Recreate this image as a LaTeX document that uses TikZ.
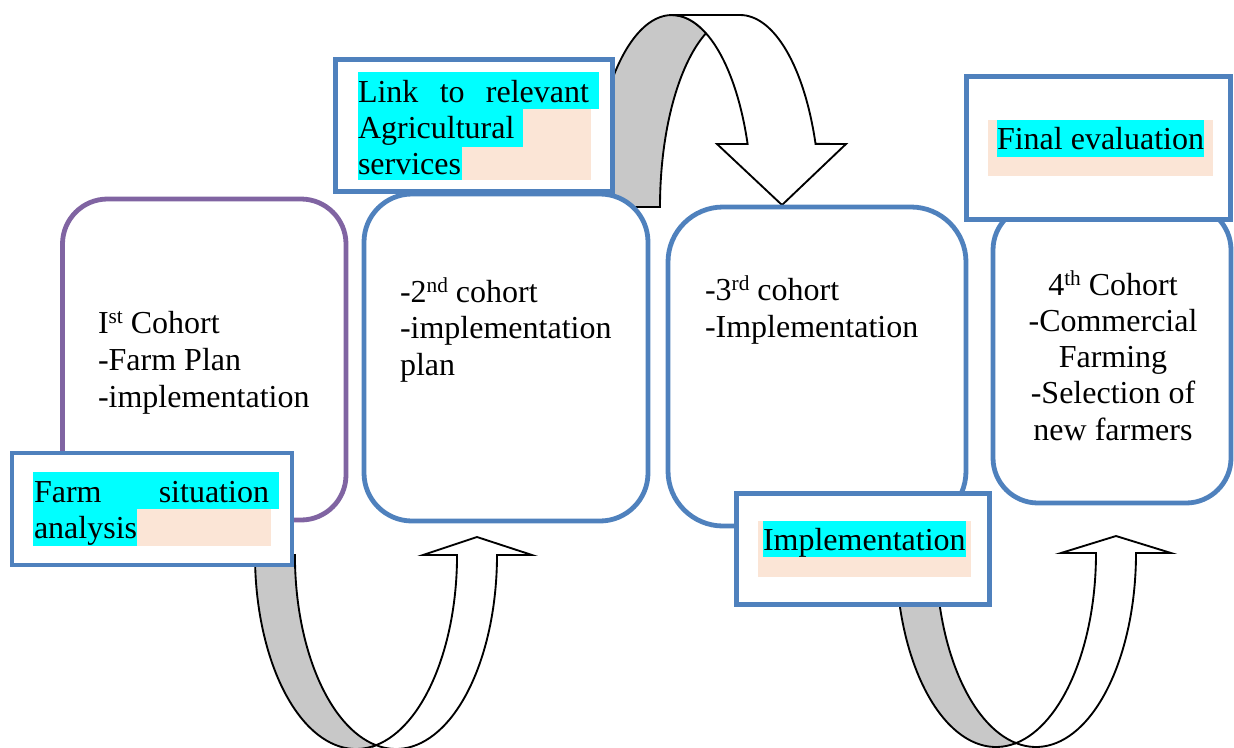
\documentclass[tikz,border=0pt]{standalone}
\usepackage{fontspec}
\setmainfont{Liberation Serif}
\definecolor{boxblue}{RGB}{79,129,189}
\definecolor{boxpurple}{RGB}{128,100,162}
\definecolor{bandgray}{RGB}{200,200,200}
\definecolor{hlbeige}{RGB}{251,229,214}
\definecolor{hlcyan}{RGB}{0,255,255}
\newcommand{\supx}[1]{\raisebox{0.3em}{\fontsize{16}{16}\selectfont #1}}
\begin{document}
\begin{tikzpicture}[x=0.75pt,y=-0.75pt,
  cohortbox/.style={draw=boxblue, line width=3.6pt, fill=white},
  tagbox/.style={draw=boxblue, line width=3.6pt, fill=white},
  backband/.style={draw=black, line width=1.4pt, fill=bandgray, line join=miter},
  frontband/.style={draw=black, line width=1.4pt, fill=white, line join=miter},
  txt/.style={inner sep=0pt, outer sep=0pt, font=\fontsize{24}{27.4}\selectfont, anchor=base west},
  ctxt/.style={txt, anchor=base},
]
\useasboundingbox (0,0) rectangle (1234,747);
\begin{scope}
\clip (0,0) rectangle (1234,747);
% ---- lower-left curved up arrow
\draw[backband] (255,555) arc[start angle=180, end angle=78.6, x radius=101, y radius=194]
  arc[start angle=101.4, end angle=180, x radius=101, y radius=194] -- cycle;
\draw[frontband] (376,745.2) arc[start angle=78.6, end angle=0, x radius=101, y radius=194]
  -- (423,555) -- (477,537) -- (532,555) -- (497,555)
  arc[start angle=0, end angle=101.4, x radius=101, y radius=194] -- cycle;
% ---- lower-right curved up arrow
\draw[backband] (896,553) arc[start angle=180, end angle=78.46, x radius=100, y radius=194]
  arc[start angle=101.54, end angle=180, x radius=100, y radius=194] -- cycle;
\draw[frontband] (1016,743.1) arc[start angle=78.46, end angle=0, x radius=100, y radius=194]
  -- (1061,553) -- (1116,536) -- (1171,553) -- (1136,553)
  arc[start angle=0, end angle=101.54, x radius=100, y radius=194] -- cycle;
% ---- top curved down arrow
\draw[backband] (592,207) arc[start angle=180, end angle=295.15, x radius=80, y radius=192]
  arc[start angle=244.85, end angle=180, x radius=80, y radius=192] -- cycle;
\draw[frontband] (672,15) -- (740,15)
  arc[start angle=270, end angle=340.8, x radius=80, y radius=192]
  -- (846,144) -- (782,205) -- (717,144) -- (747.6,144)
  arc[start angle=340.8, end angle=270, x radius=80, y radius=192] -- cycle;
\end{scope}

% ---- cohort boxes
\draw[cohortbox, draw=boxpurple, rounded corners=33.75pt] (62.5,199) rectangle (346,520);
\draw[cohortbox, rounded corners=36pt] (364,194) rectangle (648,521);
\draw[cohortbox, rounded corners=41.25pt] (668,207) rectangle (966,526);
\draw[cohortbox, rounded corners=33.75pt] (993,205) rectangle (1231,503);

\node[txt] (c1a) at (98,333) {I\supx{st} Cohort};
\node[txt] (c1b) at (98,370) {-Farm Plan};
\node[txt] (c1c) at (98,407) {-implementation};

\node[txt] (c2a) at (400,302) {-2\supx{nd} cohort};
\node[txt] (c2b) at (400,338) {-implementation};
\node[txt] (c2c) at (400,375) {plan};

\node[txt] (c3a) at (705,300) {-3\supx{rd} cohort};
\node[txt] (c3b) at (705,337) {-Implementation};

\node[ctxt] (c4a) at (1113,295) {4\supx{th} Cohort};
\node[ctxt] (c4b) at (1113,331) {-Commercial};
\node[ctxt] (c4c) at (1113,367) {Farming};
\node[ctxt] (c4d) at (1113,403) {-Selection of};
\node[ctxt] (c4e) at (1113,440) {new farmers};

% ---- tag boxes
% Farm situation analysis
\draw[tagbox] (12,453) rectangle (292,565);
\fill[hlbeige] (33,472) rectangle (271,546);
\fill[hlcyan] (33,472) rectangle (279,509);
\fill[hlcyan] (33,509) rectangle (137,546);
\node[txt] (fa1) at (34,502) {\makebox[176.25pt][s]{Farm situation}};
\node[txt] (fa2) at (34,538) {analysis};

% Link to relevant Agricultural services
\draw[tagbox] (335.5,59.5) rectangle (612.5,191.5);
\fill[hlbeige] (358,72) rectangle (591,180);
\fill[hlcyan] (358,72) rectangle (599,109);
\fill[hlcyan] (358,109) rectangle (523,147);
\fill[hlcyan] (358,147) rectangle (462,180);
\node[txt] (la1) at (358,102) {\makebox[173.25pt][s]{Link to relevant}};
\node[txt] (la2) at (358,138) {Agricultural};
\node[txt] (la3) at (358,174) {services};

% Final evaluation
\draw[tagbox] (966.5,76.5) rectangle (1230.5,219.5);
\fill[hlbeige] (988,120) rectangle (1213,176);
\fill[hlcyan] (997,120) rectangle (1204,157);
\node[txt] (fe) at (997,149) {Final evaluation};

% Implementation
\draw[tagbox] (736.5,493.5) rectangle (989.5,604.5);
\fill[hlbeige] (758,521) rectangle (971,577);
\fill[hlcyan] (763,521) rectangle (966,557);
\node[txt] (im) at (763,550) {Implementation};
\end{tikzpicture}
\end{document}
